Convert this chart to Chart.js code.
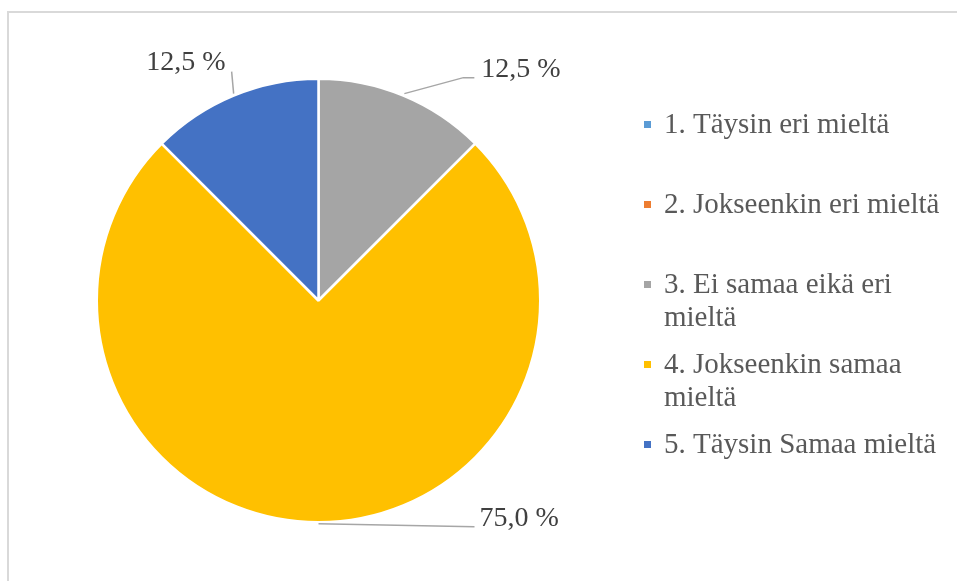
<!DOCTYPE html>
<html>
<head>
<meta charset="utf-8">
<script src="https://cdn.jsdelivr.net/npm/chart.js@4.4.1/dist/chart.umd.min.js"></script>
<style>
  html, body { margin: 0; padding: 0; background: #ffffff; }
  #wrap { position: relative; width: 957px; height: 581px; overflow: hidden; }
  #frame { position: absolute; left: 7px; top: 11px; width: 980px; height: 600px; border: 2px solid #d9d9d9; box-sizing: border-box; }
  canvas { position: absolute; left: 0; top: 0; }
</style>
</head>
<body>
<div id="wrap">
  <div id="frame"></div>
  <canvas id="c" width="957" height="581"></canvas>
</div>
<script>
// ---- data ----
const categories = [
  "1. Täysin eri mieltä",
  "2. Jokseenkin eri mieltä",
  "3. Ei samaa eikä eri mieltä",
  "4. Jokseenkin samaa mieltä",
  "5. Täysin Samaa mieltä"
];
const shares = [0, 0, 12.5, 75.0, 12.5];
const sliceColors = ["#5B9BD5", "#ED7D31", "#A5A5A5", "#FFC000", "#4472C4"];

const FONT = '"Times New Roman", "Liberation Serif", serif';

// leader-line / label placement (relative to the slice's outer mid-point)
const labelPlacement = {
  2: { line: [[1, -2], [60, -18], [71, -18]], text: [78, -19], align: 'left' },
  3: { line: [[0, 1.5], [156, 4.5]], text: [161, 3.5], align: 'left' },
  4: { line: [[0, -2], [-2, -24]], text: [-8, -26], align: 'right' }
};

const dataLabelsPlugin = {
  id: 'dataLabels',
  afterDatasetsDraw(chart) {
    const ctx = chart.ctx;
    const meta = chart.getDatasetMeta(0);
    const data = chart.data.datasets[0].data;
    const total = data.reduce((a, b) => a + b, 0);
    ctx.save();
    meta.data.forEach((arc, i) => {
      if (!data[i]) return;
      const p = labelPlacement[i];
      if (!p) return;
      const mid = (arc.startAngle + arc.endAngle) / 2;
      const ax = arc.x + Math.cos(mid) * arc.outerRadius;
      const ay = arc.y + Math.sin(mid) * arc.outerRadius;
      ctx.strokeStyle = '#a6a6a6';
      ctx.lineWidth = 1.5;
      ctx.beginPath();
      p.line.forEach((pt, k) => {
        if (k === 0) ctx.moveTo(ax + pt[0], ay + pt[1]);
        else ctx.lineTo(ax + pt[0], ay + pt[1]);
      });
      ctx.stroke();
      const txt = (data[i] / total * 100).toFixed(1).replace('.', ',') + ' %';
      ctx.fillStyle = '#404040';
      ctx.font = '28px ' + FONT;
      ctx.textAlign = p.align;
      ctx.textBaseline = 'alphabetic';
      ctx.fillText(txt, ax + p.text[0], ay + p.text[1]);
    });
    ctx.restore();
  }
};

const sideLegendPlugin = {
  id: 'sideLegend',
  afterDraw(chart) {
    const ctx = chart.ctx;
    const labels = chart.data.labels;
    const colors = chart.data.datasets[0].backgroundColor;
    const x0 = 644, tx = 664, firstBase = 133, slot = 80, lineH = 33, maxW = 292;
    ctx.save();
    ctx.font = '29px ' + FONT;
    ctx.textAlign = 'left';
    ctx.textBaseline = 'alphabetic';
    labels.forEach((lab, i) => {
      const base = firstBase + i * slot;
      ctx.fillStyle = colors[i];
      ctx.fillRect(x0, base - 12, 7, 7);
      // wrap
      const words = lab.split(' ');
      const lines = [];
      let cur = '';
      words.forEach(w => {
        const t = cur ? cur + ' ' + w : w;
        if (ctx.measureText(t).width > maxW && cur) { lines.push(cur); cur = w; }
        else cur = t;
      });
      if (cur) lines.push(cur);
      ctx.fillStyle = '#595959';
      lines.forEach((ln, k) => ctx.fillText(ln, tx, base + k * lineH));
    });
    ctx.restore();
  }
};

new Chart(document.getElementById('c'), {
  type: 'pie',
  data: {
    labels: categories,
    datasets: [{
      data: shares,
      backgroundColor: sliceColors,
      borderColor: '#ffffff',
      borderWidth: 2.5
    }]
  },
  options: {
    responsive: false,
    animation: false,
    layout: { padding: { left: 94.5, right: 414.5, top: 77.5, bottom: 57.5 } },
    plugins: {
      legend: { display: false },
      tooltip: { enabled: false }
    }
  },
  plugins: [dataLabelsPlugin, sideLegendPlugin]
});
</script>
</body>
</html>
